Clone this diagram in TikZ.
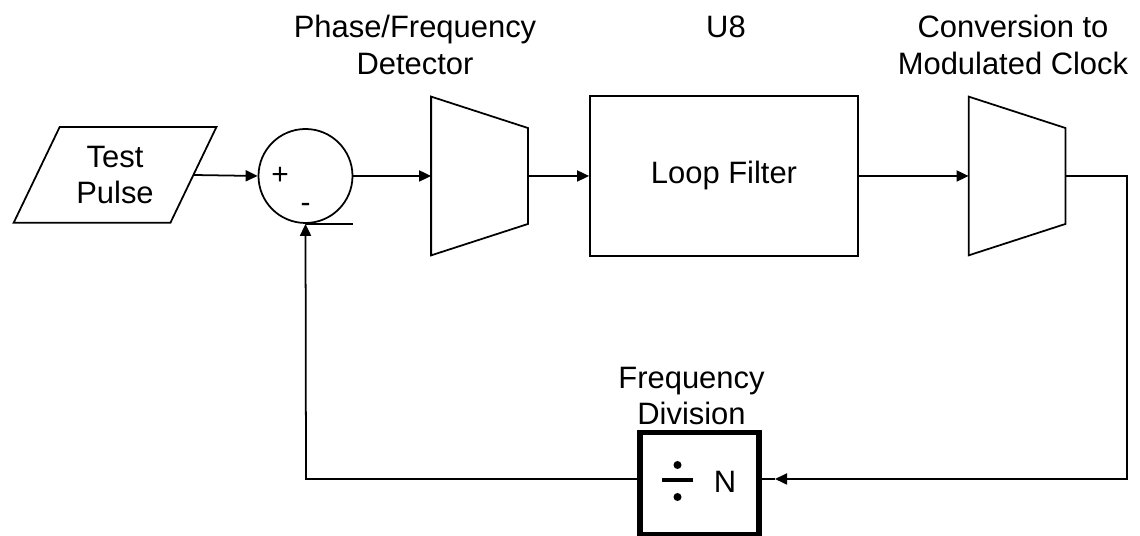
\documentclass[tikz,border=0pt]{standalone}
\usepackage{fontspec}
\setmainfont{Liberation Sans}
\usetikzlibrary{arrows.meta,calc,positioning}

\begin{document}
\begin{tikzpicture}[
  line width=1pt,
  font=\fontsize{17.6}{20.8}\selectfont,
  >={Triangle[length=0.24cm,width=0.22cm]},
  blk/.style={inner sep=0pt,align=center},
  sgn/.style={inner sep=0pt,font=\fontsize{17}{20}\selectfont}
]
  \useasboundingbox (0,0) rectangle (22.8,10.72);
  % input pulse
  \node[blk,minimum width=3.1cm,minimum height=1.88cm] (pulse) at (2.3,7.22) {Test\\Pulse};
  \draw ($(pulse.north west)+(0.46,0)$) -- ($(pulse.north east)+(0.46,0)$) -- ($(pulse.south east)+(-0.46,0)$) -- ($(pulse.south west)+(-0.46,0)$) -- cycle;
  % summing junction
  \node[draw,circle,minimum size=1.88cm,inner sep=0pt] (sum) at (6.11,7.2) {};
  \node[sgn] (plus) at ($(sum.center)+(-0.51,0)$) {+};
  \node[sgn] (minus) at ($(sum.center)+(0,-0.64)$) {-};
  \draw (sum.south) -- ++(0.94,0);
  % phase/frequency detector
  \node[blk,minimum width=1.9cm,minimum height=3.14cm] (pfd) at (9.59,7.2) {};
  \draw (pfd.north west) -- ($(pfd.east)+(0,0.96)$) -- ($(pfd.east)+(0,-0.96)$) -- (pfd.south west) -- cycle;
  \node[align=center] (pfdlbl) at (8.3,9.825) {Phase/Frequency\\Detector};
  % loop filter
  \node[draw,minimum width=5.36cm,minimum height=3.2cm] (lf) at (14.48,7.2) {Loop Filter};
  \node (u8) at (14.52,10.18) {U8};
  % conversion
  \node[blk,minimum width=1.9cm,minimum height=3.14cm] (conv) at (20.34,7.2) {};
  \draw (conv.north west) -- ($(conv.east)+(0,0.96)$) -- ($(conv.east)+(0,-0.96)$) -- (conv.south west) -- cycle;
  \node[align=center] (convlbl) at (20.26,9.825) {Conversion to\\Modulated Clock};
  % frequency division
  \node[draw,line width=3.4pt,minimum width=2.38cm,minimum height=2.05cm,inner sep=0pt] (div) at (13.99,1.045) {};
  \fill ($(div.center)+(-0.75,0.035)$) rectangle ++(0.62,0.08);
  \fill ($(div.center)+(-0.44,0.375)$) circle (0.08);
  \fill ($(div.center)+(-0.44,-0.265)$) circle (0.08);
  \node (n) at ($(div.center)+(0.51,0.035)$) {N};
  \node[align=center] (divlbl) at (13.83,2.8) {Frequency\\Division};
  % connections
  \coordinate (fbR) at (22.54,1.14);
  \coordinate (fbL) at (6.12,1.14);
  \coordinate (tip) at (15.5,1.14);
  \draw[->] (pulse.east) -- (sum.west);
  \draw[->] (sum.east) -- (pfd.west);
  \draw[->] (pfd.east) -- (lf.west);
  \draw[->] (lf.east) -- (conv.west);
  \draw[->] (conv.east) -| (fbR) -- (tip);
  \draw (tip) -- (div.east |- tip);
  \draw[->] (div.west |- fbL) -- (fbL) -- (sum.south);
\end{tikzpicture}
\end{document}
